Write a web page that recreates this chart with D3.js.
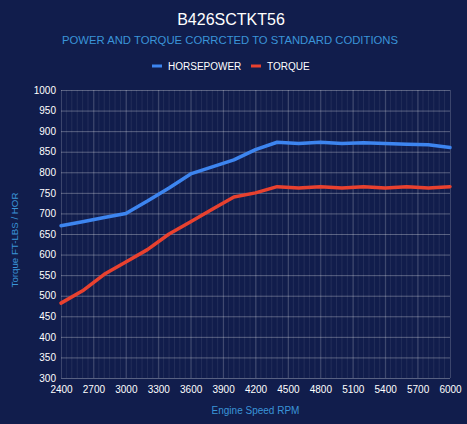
<!DOCTYPE html>
<html>
<head>
<meta charset="utf-8">
<script src="https://cdn.jsdelivr.net/npm/d3@7"></script>
<style>
    body { margin: 0; background: #111d4c; }
    text { font-family: "Liberation Sans", Arial, sans-serif; }
</style>
</head>
<body>
<div id="chart-area"></div>
<script>

// data
var rpm = [2400, 2600, 2800, 3000, 3200, 3400, 3600, 3800, 4000, 4200,
           4400, 4600, 4800, 5000, 5200, 5400, 5600, 5800, 6000];
var horsepower = [670, 680, 690, 700, 730, 762, 796, 813, 830, 855,
                  873, 870, 873, 870, 872, 870, 868, 867, 860];
var torque = [482, 512, 552, 582, 612, 650, 680, 710, 740, 750,
              765, 762, 765, 762, 765, 762, 765, 762, 765];
var xTicks = [2400, 2700, 3000, 3300, 3600, 3900, 4200, 4500, 4800, 5100, 5400, 5700, 6000];
var yTicks = [300, 350, 400, 450, 500, 550, 600, 650, 700, 750, 800, 850, 900, 950, 1000];
var seriesNames = ["HORSEPOWER", "TORQUE"];
var seriesColors = ["#3d85f0", "#e8412f"];


DynoChart = function(_parentElement) {
    this.parentElement = _parentElement;
    this.initVis();
}

DynoChart.prototype.initVis = function() {
    var vis = this;

    vis.margin = {top: 90, right: 17, bottom: 46, left: 61};
    vis.outerWidth = 467;
    vis.outerHeight = 424;
    vis.width = vis.outerWidth - vis.margin.left - vis.margin.right;
    vis.height = vis.outerHeight - vis.margin.top - vis.margin.bottom;

    vis.root = d3.select("#" + vis.parentElement).append("svg")
        .attr("width", vis.outerWidth)
        .attr("height", vis.outerHeight)
        .style("display", "block");

    vis.root.append("rect")
        .attr("width", vis.outerWidth)
        .attr("height", vis.outerHeight)
        .attr("fill", "#111d4c");

    // Titles
    vis.root.append("text")
        .attr("x", 231)
        .attr("y", 25)
        .attr("text-anchor", "middle")
        .attr("fill", "#ffffff")
        .style("font-size", "16px")
        .text("B426SCTKT56");

    vis.root.append("text")
        .attr("x", 230)
        .attr("y", 44)
        .attr("text-anchor", "middle")
        .attr("fill", "#3a94d8")
        .style("font-size", "11.3px")
        .text("POWER AND TORQUE CORRCTED TO STANDARD CODITIONS");

    // Legend
    var legendX = [152, 251];
    vis.root.selectAll("rect.legend")
        .data(seriesNames)
        .enter().append("rect")
        .attr("class", "legend")
        .attr("x", function(d, i) { return legendX[i]; })
        .attr("y", 64.5)
        .attr("width", 10)
        .attr("height", 3)
        .attr("fill", function(d, i) { return seriesColors[i]; });

    vis.root.selectAll("text.legend")
        .data(seriesNames)
        .enter().append("text")
        .attr("class", "legend")
        .attr("x", function(d, i) { return legendX[i] + 16; })
        .attr("y", 69.5)
        .attr("fill", "#ffffff")
        .style("font-size", "10px")
        .text(function(d) { return d; });

    vis.svg = vis.root.append("g")
        .attr("transform", "translate(" + vis.margin.left + "," + vis.margin.top + ")");

    // Scales
    var x = d3.scaleLinear()
        .domain([2400, 6000])
        .range([0, vis.width]);

    var y = d3.scaleLinear()
        .domain([300, 1000])
        .range([vis.height, 0]);

    // minor vertical grid
    vis.svg.selectAll("line.minor")
        .data(d3.range(2450, 6000, 50))
        .enter().append("line")
        .attr("class", "minor")
        .attr("x1", function(d) { return x(d); })
        .attr("x2", function(d) { return x(d); })
        .attr("y1", 0)
        .attr("y2", vis.height)
        .attr("stroke", "#ffffff")
        .attr("stroke-opacity", 0.08);

    // major grid
    vis.svg.append("g")
        .call(d3.axisBottom(x).tickValues(xTicks).tickSize(-vis.height).tickFormat(""))
        .attr("transform", "translate(0," + vis.height + ")")
        .call(function(g) {
            g.select(".domain").remove();
            g.selectAll("line").attr("stroke", "#ffffff").attr("stroke-opacity", 0.18);
        });

    vis.svg.append("g")
        .call(d3.axisLeft(y).tickValues(yTicks).tickSize(-vis.width).tickFormat(""))
        .call(function(g) {
            g.select(".domain").remove();
            g.selectAll("line").attr("stroke", "#ffffff").attr("stroke-opacity", 0.3);
        });

    // tick labels
    vis.svg.append("g")
        .attr("transform", "translate(0," + vis.height + ")")
        .call(d3.axisBottom(x).tickValues(xTicks).tickSize(0).tickPadding(8).tickFormat(d3.format("d")))
        .call(function(g) {
            g.select(".domain").remove();
            g.selectAll("text").attr("fill", "#ffffff").style("font-size", "10px")
                .style("font-family", "Liberation Sans, Arial, sans-serif");
        });

    vis.svg.append("g")
        .call(d3.axisLeft(y).tickValues(yTicks).tickSize(0).tickPadding(5).tickFormat(d3.format("d")))
        .call(function(g) {
            g.select(".domain").remove();
            g.selectAll("text").attr("fill", "#ffffff").style("font-size", "10px")
                .style("font-family", "Liberation Sans, Arial, sans-serif");
        });

    // Lines
    var series = [horsepower, torque];
    var line = d3.line()
        .x(function(d, i) { return x(rpm[i]); })
        .y(function(d) { return y(d); });

    vis.svg.selectAll(".series")
        .data(series)
        .enter().append("path")
        .attr("class", "series")
        .attr("d", line)
        .attr("fill", "none")
        .attr("stroke", function(d, i) { return seriesColors[i]; })
        .attr("stroke-width", 3.5)
        .attr("stroke-linejoin", "round")
        .attr("stroke-linecap", "round");

    // Axis titles
    vis.root.append("text")
        .attr("x", 255.5)
        .attr("y", 414)
        .attr("text-anchor", "middle")
        .attr("fill", "#3a94d8")
        .style("font-size", "10px")
        .text("Engine Speed RPM");

    vis.root.append("text")
        .attr("transform", "translate(18,240) rotate(-90)")
        .attr("text-anchor", "middle")
        .attr("fill", "#3a94d8")
        .style("font-size", "9.7px")
        .text("Torque FT-LBS / HOR");
};

new DynoChart("chart-area");

</script>
</body>
</html>
